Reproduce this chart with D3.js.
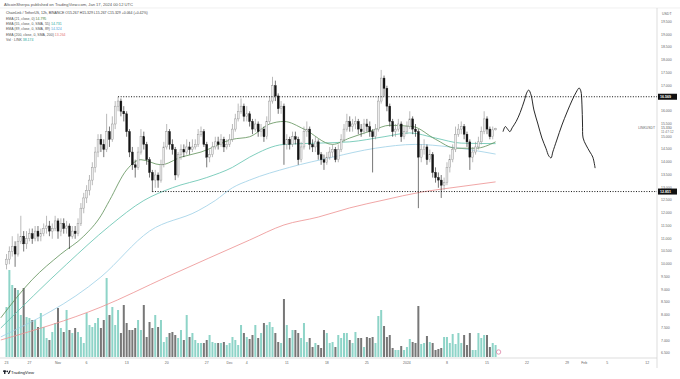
<!DOCTYPE html>
<html><head><meta charset="utf-8">
<script src="https://cdn.jsdelivr.net/npm/d3@7"></script>
<style>body{margin:0;background:#fff}svg{display:block;font-family:"Liberation Sans",Arial,sans-serif}</style>
</head><body><svg id="c" width="680" height="379"></svg>
<script>
// ---- data (LINK/USDT 12h) ----
const firstOpen = 10.0;
const closes = [10.2,10.5,10.7,10.4,10.9,11.1,10.8,11.0,11.2,11.0,
 11.3,11.1,11.2,11.4,11.5,11.3,11.4,11.7,11.3,11.6,
 11.4,11.5,11.1,11.3,11.2,11.6,12.2,12.6,12.9,13.3,
 13.8,14.4,14.9,14.7,14.5,15.2,14.9,15.5,16.2,16.4,
 16.0,15.9,15.2,14.4,13.9,13.8,14.4,15.0,14.7,14.1,
 13.6,13.3,13.5,13.3,13.9,14.6,15.2,14.7,14.5,13.5,
 14.3,14.5,14.4,14.6,14.5,14.6,14.7,15.1,15.2,14.7,
 14.2,14.3,14.6,14.8,14.7,14.9,14.6,14.7,14.9,15.3,
 15.7,16.0,16.2,15.8,15.9,15.6,15.3,15.5,15.2,15.3,
 15.0,15.6,16.4,17.0,16.6,16.1,16.2,14.7,14.9,14.7,
 15.0,14.9,14.1,14.6,15.2,15.3,14.7,14.6,14.8,14.3,
 14.1,14.0,14.2,14.4,14.5,14.1,14.5,14.9,15.3,15.6,
 15.4,15.5,15.6,15.3,15.2,15.5,15.4,15.2,15.0,15.3,
 16.4,17.3,16.9,16.2,15.6,15.2,15.3,15.5,15.0,15.2,
 15.4,15.7,15.3,15.2,14.2,14.5,14.6,14.1,14.3,13.6,
 13.4,13.3,13.1,13.2,13.8,14.1,14.5,15.1,15.3,15.4,
 15.1,14.8,14.2,14.4,14.6,14.8,15.2,15.7,15.3,15.0,
 15.27,15.33];
const highs = [10.4,10.7,11.1,10.9,11.2,11.9,11.3,11.3,11.4,11.4,
 11.5,11.5,11.4,11.6,11.9,11.7,11.6,11.9,11.8,11.8,
 11.8,11.7,11.6,11.5,11.5,11.8,12.4,12.8,13.1,13.5,
 14.0,14.6,15.1,15.1,14.9,15.9,15.4,15.8,16.4,16.57,
 16.5,16.2,16.0,15.3,14.6,14.1,14.6,15.3,15.2,14.8,
 14.2,13.7,13.7,13.6,14.1,14.8,15.5,15.3,14.9,14.6,
 14.4,14.7,14.7,14.9,14.8,14.9,14.9,15.3,15.4,15.3,
 14.8,14.5,14.8,15.0,15.0,15.1,15.0,14.9,15.1,15.5,
 15.9,16.3,16.5,16.3,16.2,16.0,15.7,15.7,15.6,15.5,
 15.4,15.8,16.6,17.35,17.2,16.7,16.4,16.3,15.1,15.0,
 15.2,15.2,15.0,14.8,15.4,15.6,15.4,14.9,15.0,14.9,
 14.4,14.3,14.4,14.6,14.7,14.6,14.7,15.1,15.5,15.9,
 15.8,15.7,15.8,15.7,15.5,15.7,15.7,15.6,15.3,15.5,
 16.6,17.62,17.4,17.0,16.3,15.7,15.5,15.7,15.6,15.4,
 15.6,16.0,15.8,15.5,15.3,14.7,14.9,14.7,14.5,14.4,
 13.8,13.6,13.5,13.4,14.0,14.3,14.7,15.4,15.5,15.6,
 15.5,15.2,14.9,14.6,14.8,15.0,15.4,16.0,15.8,15.4,
 15.4,15.35];
const lows = [9.8,10.0,10.3,9.9,10.3,10.8,10.5,10.6,10.9,10.8,
 10.9,10.9,10.9,11.1,11.2,11.1,11.0,11.3,11.0,11.1,
 11.2,11.2,10.6,11.0,11.0,11.1,11.5,12.0,12.4,12.7,
 13.1,13.6,14.2,14.4,14.2,14.4,14.6,14.8,15.3,16.0,
 15.8,15.6,15.0,14.2,13.7,13.4,13.7,14.3,14.5,13.9,
 13.4,12.83,13.0,13.0,13.2,13.8,14.5,14.5,14.3,13.3,
 13.4,14.1,14.2,14.3,14.3,14.4,14.5,14.6,15.0,14.6,
 13.8,14.0,14.2,14.5,14.5,14.6,14.4,14.5,14.6,14.8,
 15.2,15.6,15.9,15.6,15.6,15.4,15.1,15.2,15.0,15.0,
 14.8,14.9,15.5,16.3,16.4,15.9,15.9,13.9,14.5,14.5,
 14.6,14.7,13.9,14.0,14.5,15.0,14.5,14.4,14.4,14.1,
 13.9,13.7,13.9,14.1,14.2,14.0,14.0,14.4,14.8,15.2,
 15.2,15.2,15.3,15.1,15.0,15.1,15.2,15.0,13.6,14.9,
 15.2,16.3,16.6,16.0,15.4,15.0,15.0,15.2,14.8,14.9,
 15.1,15.3,15.1,15.0,12.2,14.0,14.3,13.9,14.0,13.4,
 13.2,13.0,12.6,12.9,13.1,13.6,14.0,14.4,15.0,15.1,
 14.9,14.6,13.7,14.0,14.3,14.5,14.7,15.1,15.1,14.9,
 14.9,15.25];
const volumes = [50,87,72,69,67,42,69,40,39,37,
 37,30,44,30,19,17,25,34,49,29,
 25,47,27,24,29,25,20,14,44,32,
 30,34,39,29,37,79,42,50,32,47,
 24,52,34,27,27,29,37,27,52,20,
 35,29,42,30,37,15,20,24,25,22,
 19,27,17,42,20,24,17,14,14,14,
 17,22,15,14,14,14,15,12,14,20,
 17,12,32,24,20,18,
 22,32,19,24,34,32,35,30,24,15,
 14,58,32,19,27,27,24,19,34,15,
 19,10,14,12,9,27,24,14,15,10,
 22,19,24,24,17,14,25,19,19,10,
 20,19,20,14,41,47,31,20,22,9,
 7,7,11,7,10,18,15,14,51,13,
 14,21,15,14,7,8,9,20,20,14,
 23,13,24,14,22,12,24,7,7,24,
 19,22,22,10,14,12];

// moving averages (candle index, value)
const ema21Idx = [-2,9,19,27,33,36,42,47,54,61,68,79,85,92,97,104,114,120,128,134,142,150,157,164,171];
const ema21Val = [7.9,9.4,10.4,11.1,11.9,12.5,13.7,14.1,13.9,14.2,14.4,14.9,15.0,15.5,15.6,15.3,14.7,14.95,15.25,15.45,15.4,14.9,14.55,14.55,14.8];
const ema55Idx = [-2,21,36,48,58,70,79,85,97,109,120,132,141,150,159,171];
const ema55Val = [7.5,10.0,11.5,12.5,13.0,13.4,13.8,14.2,14.7,14.75,14.8,15.0,15.15,14.95,14.75,14.73];
const ema89Idx = [-2,33,50,67,73,79,85,99,114,129,143,155,171];
const ema89Val = [7.15,9.5,11.3,12.1,12.5,13.0,13.3,13.8,14.2,14.55,14.7,14.6,14.32];
const ema200Idx = [-2,33,56,85,97,109,120,132,145,155,171];
const ema200Val = [7.03,8.32,9.5,10.95,11.54,11.85,12.21,12.52,12.83,12.99,13.23];

// horizontal levels
const levelValues = [16.569, 12.851];
const levelStartIdx = [39, 51];

// hand-drawn projection (days after Nov 1 2023, price)
const drawDay = [77.8,78.2,78.6,79.0,79.4,80.1,80.8,81.5,82.0,82.3,82.7,83.2,83.9,84.6,85.3,85.8,86.2,86.5,87.2,88.1,89.0,89.9,90.6,91.1,91.4,91.6,91.7,91.8,92.3,93.0,93.5,93.9];
const drawPrice = [15.2,15.4,15.3,15.2,15.35,15.6,15.95,16.4,16.75,16.83,16.64,16.05,15.5,14.95,14.55,14.25,14.17,14.4,14.87,15.46,15.97,16.44,16.75,16.91,16.8,16.25,15.5,14.95,14.68,14.4,14.2,13.77];

// axis ticks
const yTickValues = [6.5,7,7.5,8,8.5,9,9.5,10,10.5,11,11.5,12,12.5,13,13.5,14,14.5,15,15.5,16,17,17.5,18,18.5,19,19.5];
const xTickDates = ["2023-10-23","2023-10-27","2023-11-01","2023-11-06","2023-11-13","2023-11-20","2023-11-27","2023-12-01","2023-12-04","2023-12-11","2023-12-18","2023-12-25","2024-01-01","2024-01-08","2024-01-15","2024-01-22","2024-01-29","2024-02-01","2024-02-05","2024-02-12"];
const xTickLabels = ["23","27","Nov","6","13","20","27","Dec","4","11","18","25","2024","8","15","22","29","Feb","5","12"];

const legendLines = [
  {t:"EMA (21, close, 0)", v:"14.795", c:"#3f7d3a"},
  {t:"EMA (55, close, 0, SMA, 55)", v:"14.731", c:"#26a69a"},
  {t:"EMA (89, close, 0, SMA, 89)", v:"14.324", c:"#4fa3d8"},
  {t:"EMA (200, close, 0, SMA, 200)", v:"13.264", c:"#e57373"},
  {t:"Vol · LINK", v:"38.174", c:"#26a69a"}
];

// ---- drawing ----
const DAY = 86400000;
const start = Date.UTC(2023,9,23,0);
const nov1 = Date.UTC(2023,10,1);
const svg = d3.select("#c");
const plotR = 657, plotTop = 8, base = 358;

const x = d3.scaleUtc().domain([new Date(nov1 - 10.14*DAY), new Date(nov1 + 104.72*DAY)]).range([0, plotR]);
const y = d3.scaleLinear().domain([6.5, 19.5]).range([353.5, 22]);
const yv = d3.scaleLinear().domain([0, 100]).range([357, 257]);
const dI = i => new Date(start + i*DAY/2);

const candles = closes.map((c,i)=>({i, o: i?closes[i-1]:firstOpen, c, h: highs[i], l: lows[i], v: volumes[i]}));

const g = svg.append("g");
g.append("rect").attr("x",0).attr("y",0).attr("width",680).attr("height",379).attr("fill","#fff");

g.append("line").attr("x1",0).attr("x2",680).attr("y1",plotTop).attr("y2",plotTop).attr("stroke","#e6e6e6").attr("stroke-width",0.6);
g.append("line").attr("x1",plotR).attr("x2",plotR).attr("y1",plotTop).attr("y2",368).attr("stroke","#cfcfcf").attr("stroke-width",0.7);
g.append("line").attr("x1",0).attr("x2",plotR).attr("y1",base).attr("y2",base).attr("stroke","#cfcfcf").attr("stroke-width",0.7);

// volume
g.append("g").selectAll("rect").data(candles).join("rect")
  .attr("x", d => x(dI(d.i)) - 1)
  .attr("width", 2)
  .attr("y", d => yv(d.v))
  .attr("height", d => yv(0) - yv(d.v))
  .attr("fill", d => d.c >= d.o ? "#8ed4c8" : "#777");

// moving averages
const mk = (idx, val) => idx.map((k,j)=>[x(dI(k)), y(val[j])]);
const ln = d3.line().curve(d3.curveMonotoneX);
[[ema200Idx,ema200Val,"#ec8f8f"],[ema89Idx,ema89Val,"#9ccfe6"],[ema55Idx,ema55Val,"#5fc1ad"],[ema21Idx,ema21Val,"#5d8f57"]]
 .forEach(([a,b,c]) => g.append("path").attr("d", ln(mk(a,b))).attr("fill","none").attr("stroke",c).attr("stroke-width",0.8));

// candles
const cg = g.append("g");
cg.selectAll("line").data(candles).join("line")
  .attr("x1", d => x(dI(d.i))).attr("x2", d => x(dI(d.i)))
  .attr("y1", d => y(d.h)).attr("y2", d => y(d.l))
  .attr("stroke", d => d.c >= d.o ? "#8c8c8c" : "#1a1a1a").attr("stroke-width",0.6);
cg.selectAll("rect").data(candles).join("rect")
  .attr("x", d => x(dI(d.i)) - 0.95).attr("width", 1.9)
  .attr("y", d => y(Math.max(d.o,d.c)))
  .attr("height", d => Math.max(0.6, Math.abs(y(d.o)-y(d.c))))
  .attr("fill", d => d.c >= d.o ? "#ececec" : "#141414")
  .attr("stroke", d => d.c >= d.o ? "#8c8c8c" : "#141414").attr("stroke-width",0.4);

// levels
levelValues.forEach((v,k) => {
  g.append("line").attr("x1", x(dI(levelStartIdx[k]))).attr("x2", plotR)
    .attr("y1", y(v)).attr("y2", y(v)).attr("stroke","#111").attr("stroke-width",1).attr("stroke-dasharray","1,1.6");
});

// hand drawing
g.append("path").attr("d", d3.line().curve(d3.curveCatmullRom)(drawDay.map((d,k)=>[x(new Date(nov1 + d*DAY)), y(drawPrice[k])])))
  .attr("fill","none").attr("stroke","#111").attr("stroke-width",0.9);

g.append("circle").attr("cx", x(dI(171))+3).attr("cy", 352).attr("r", 2.2).attr("fill","#fff").attr("stroke","#d05a8a").attr("stroke-width",0.6);

// y axis labels
const fmt = d3.format(".3f");
const ya = g.append("g").attr("font-size",3.5).attr("fill","#666");
yTickValues.forEach(v => ya.append("text").attr("x",661).attr("y",y(v)).attr("dominant-baseline","middle").text(fmt(v)));
ya.append("text").attr("x",662).attr("y",14).attr("dominant-baseline","middle").text("USDT");
levelValues.forEach(v => {
  g.append("rect").attr("x",658).attr("y",y(v)-3).attr("width",19).attr("height",6).attr("fill","#111");
  g.append("text").attr("x",660).attr("y",y(v)).attr("dominant-baseline","middle").attr("font-size",3.6).attr("fill","#fff").attr("font-weight","bold").text(fmt(v));
});
const last = closes[closes.length-1];
g.append("text").attr("x",655).attr("y",y(last)).attr("text-anchor","end").attr("dominant-baseline","middle").attr("font-size",3.4).attr("fill","#666").text("LINKUSDT");
g.append("text").attr("x",661).attr("y",y(last)).attr("dominant-baseline","middle").attr("font-size",3.5).attr("fill","#555").text(fmt(last));
g.append("text").attr("x",661).attr("y",y(last)+3.8).attr("dominant-baseline","middle").attr("font-size",3.3).attr("fill","#777").text("11:47:12");

// x axis labels
const xa = g.append("g").attr("font-size",3.5).attr("fill","#666").attr("text-anchor","middle");
xTickDates.forEach((d,k) => xa.append("text").attr("x", x(new Date(d+"T00:00:00Z"))).attr("y",363.5).attr("dominant-baseline","middle").text(xTickLabels[k]));

// header + legend
g.append("text").attr("x",4).attr("y",4.5).attr("font-size",4.1).attr("fill","#555").attr("dominant-baseline","middle")
  .text("AltcoinSherpa published on TradingView.com, Jan 17, 2024 00:12 UTC");
g.append("text").attr("x",6).attr("y",13.3).attr("font-size",3.5).attr("fill","#444").attr("dominant-baseline","middle")
  .text("ChainLink / TetherUS, 12h, BINANCE  O15.267 H15.329 L15.267 C15.329 +0.064 (+0.42%)");
legendLines.forEach((L,k) => {
  const t = g.append("text").attr("x",6).attr("y",18.6 + k*5.3).attr("font-size",3.5).attr("fill","#555").attr("dominant-baseline","middle");
  t.append("tspan").text(L.t + "  ");
  t.append("tspan").attr("fill",L.c).text(L.v);
});

const lg = g.append("g").attr("transform","translate(3,370.5)");
lg.append("rect").attr("x",0).attr("y",0).attr("width",3).attr("height",1.3).attr("fill","#131722");
lg.append("rect").attr("x",1.1).attr("y",0).attr("width",1.3).attr("height",3.5).attr("fill","#131722");
lg.append("circle").attr("cx",4.2).attr("cy",0.9).attr("r",0.8).attr("fill","#131722");
lg.append("path").attr("d","M4.8,3.5 L6.5,0 L7.8,0 L6.1,3.5 Z").attr("fill","#131722");
g.append("text").attr("x",11).attr("y",372.5).attr("font-size",4.2).attr("fill","#131722").attr("dominant-baseline","middle").text("TradingView");
</script></body></html>
